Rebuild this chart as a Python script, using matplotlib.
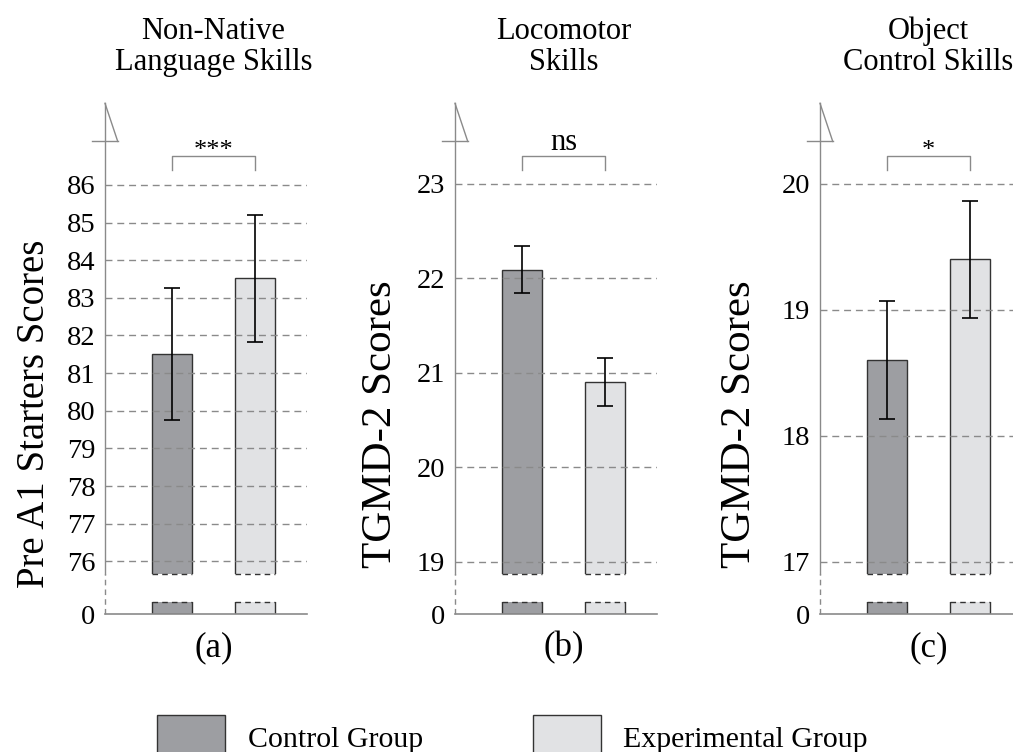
import matplotlib.pyplot as plt
from matplotlib.patches import Rectangle
from matplotlib.transforms import blended_transform_factory

plt.rcParams['font.family'] = ['Liberation Serif', 'DejaVu Serif']

# data
groups = ["Control Group", "Experimental Group"]
titles = ["Non-Native\nLanguage Skills", "Locomotor\nSkills", "Object\nControl Skills"]
ylabels = ["Pre A1 Starters Scores", "TGMD-2 Scores", "TGMD-2 Scores"]
letters = ["(a)", "(b)", "(c)"]
sig = ["***", "ns", "*"]

lang_means = [81.5, 83.52]
lang_err = [1.75, 1.68]
loco_means = [22.09, 20.9]
loco_err = [0.245, 0.25]
obj_means = [18.6, 19.4]
obj_err = [0.47, 0.465]

lang_ticks = [76, 77, 78, 79, 80, 81, 82, 83, 84, 85, 86]
loco_ticks = [19, 20, 21, 22, 23]
obj_ticks = [17, 18, 19, 20]

means = [lang_means, loco_means, obj_means]
errs = [lang_err, loco_err, obj_err]
ticks = [lang_ticks, loco_ticks, obj_ticks]
ylims = [(75.67, 88.17), (18.873, 23.85), (16.905, 20.64)]

colors = ["#9d9ea2", "#e1e2e4"]
edge = "#333333"
grey = "#8a8a8a"

W, H = 1013, 752
def fx(px):
    return px / W
def fy(py):
    return 1 - py / H

fig = plt.figure(figsize=(W / 100, H / 100), dpi=100)

lefts = [105, 455, 820]
ylab_x = [35, 381, 740]
ylab_y = [414, 424, 424]
ylab_size = [28, 31, 31]
top_px, brk_px, stub_px, zero_px = 103.3, 573.7, 602, 614
ax_w = 202
x = [0, 1]
w = 0.48

for i in range(3):
    L = lefts[i]
    up = fig.add_axes([fx(L), fy(brk_px), fx(ax_w), (brk_px - top_px) / H])
    lo = fig.add_axes([fx(L), fy(zero_px), fx(ax_w), (zero_px - stub_px) / H])
    for ax in (up, lo):
        ax.set_xlim(-0.81, 1.63)
        ax.set_xticks([])
        for s in ["top", "right"]:
            ax.spines[s].set_visible(False)
        ax.tick_params(axis='y', length=0, pad=7, labelsize=20.5)

    # upper part
    up.set_ylim(*ylims[i])
    up.set_yticks(ticks[i])
    up.spines["bottom"].set_visible(False)
    up.spines["left"].set_color(grey)
    up.spines["left"].set_linewidth(1)
    up.set_axisbelow(False)
    up.grid(axis='y', ls=(0, (5, 3.5)), color=grey, lw=1)
    up.bar(x, means[i], width=w, color=colors, edgecolor=edge, linewidth=1)
    up.hlines([ylims[i][0]] * 2, [xi - w / 2 for xi in x], [xi + w / 2 for xi in x],
              colors=edge, linestyles=(0, (4, 3)), lw=1, clip_on=False)
    up.errorbar(x, means[i], yerr=errs[i], fmt='none', ecolor='black',
                elinewidth=1.2, capsize=6, capthick=1.2, zorder=4)

    # flag at the top of the axis
    up.plot([0, 0.063], [1, 0.919], transform=up.transAxes, color=grey, lw=1, clip_on=False)
    up.plot([-0.066, 0.063], [0.919, 0.919], transform=up.transAxes, color=grey, lw=1, clip_on=False)

    # significance bracket
    bt = blended_transform_factory(up.transData, up.transAxes)
    up.plot([0, 0, 1, 1], [0.858, 0.8886, 0.8886, 0.858], transform=bt,
            color=grey, lw=1, clip_on=False)
    if sig[i] == "ns":
        up.text(0.5, 0.9007, sig[i], transform=bt, ha='center', va='baseline', fontsize=22)
    else:
        up.text(0.5, 0.899, sig[i], transform=bt, ha='center', va='center', fontsize=19)

    # lower stub
    lo.set_ylim(0, 1)
    lo.set_yticks([0])
    lo.spines["left"].set_visible(False)
    lo.spines["bottom"].set_color(grey)
    lo.spines["bottom"].set_linewidth(1.2)
    lo.bar(x, means[i], width=w, color=colors, edgecolor=edge, linewidth=1)
    lo.hlines([1, 1], [xi - w / 2 for xi in x], [xi + w / 2 for xi in x],
              colors=edge, linestyles=(0, (4, 3)), lw=1, clip_on=False)
    lo.plot([0, 0], [0, (zero_px - brk_px) / (zero_px - stub_px)], transform=lo.transAxes,
            color=grey, lw=1, ls=(0, (4, 3)), clip_on=False)

    # texts
    ft = blended_transform_factory(up.transData, fig.transFigure)
    fig.text(0.5, fy(47), titles[i], transform=ft, ha='center', va='center',
             fontsize=22, linespacing=1.1)
    fig.text(0.5, fy(648), letters[i], transform=ft, ha='center', va='center', fontsize=25)
    fig.text(fx(ylab_x[i]), fy(ylab_y[i]), ylabels[i], rotation=90,
             ha='center', va='center', fontsize=ylab_size[i])

# legend
leg_x = [157, 533]
txt_x = [248, 623]
for j in range(2):
    fig.add_artist(Rectangle((fx(leg_x[j]), fy(756)), fx(68), 41 / H, transform=fig.transFigure,
                             facecolor=colors[j], edgecolor=edge, linewidth=1))
    fig.text(fx(txt_x[j]), fy(747), groups[j], ha='left', va='baseline', fontsize=21.5)

fig.savefig("out.png", dpi=100)
